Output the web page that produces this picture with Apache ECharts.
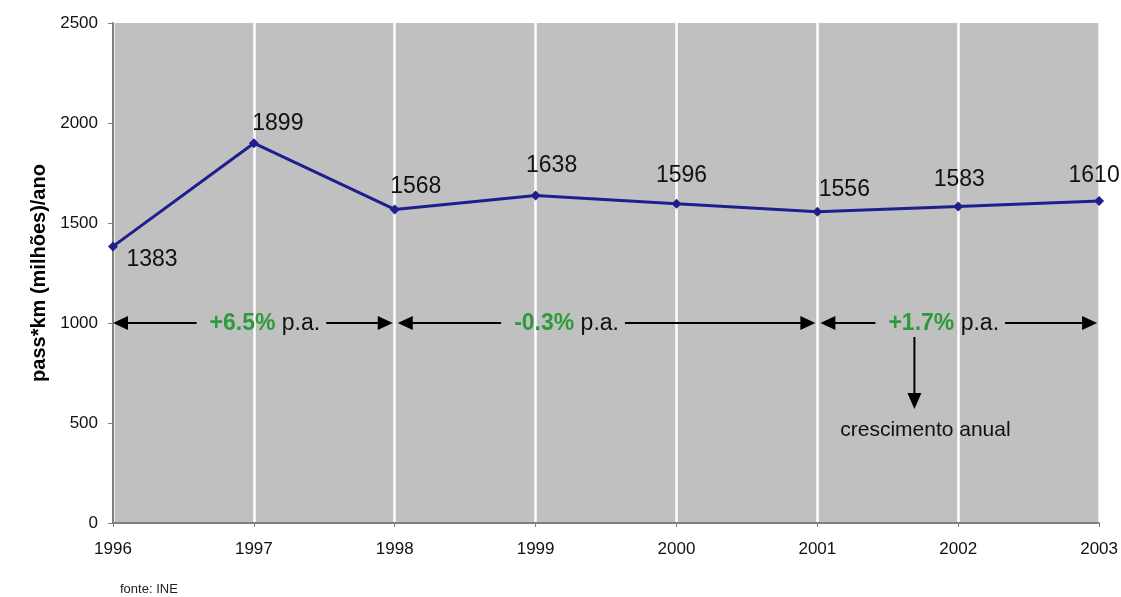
<!DOCTYPE html>
<html>
<head>
<meta charset="utf-8">
<script src="https://cdn.jsdelivr.net/npm/echarts@6/dist/echarts.min.js"></script>
<style>
  html, body { margin: 0; padding: 0; background: #ffffff; }
  #chart { width: 1121px; height: 597px; }
</style>
</head>
<body>
<div id="chart"></div>
<script>
// Passenger-km per year (millions)
const years = [1996, 1997, 1998, 1999, 2000, 2001, 2002, 2003];
const passKm = [1383, 1899, 1568, 1638, 1596, 1556, 1583, 1610];
const yTicks = [0, 500, 1000, 1500, 2000, 2500];

// Annual growth periods drawn as double arrows at the 1000 level
const growthFrom = [1996, 1998, 2001];
const growthTo = [1998, 2001, 2003];
const growthRate = ['+6.5%', '-0.3%', '+1.7%'];
const growthLevel = 1000;

// label placement for each point (pixel offsets from the marker)
const labelOffsets = [[39, 13], [24, -20], [21, -23], [16, -30], [5, -28], [27, -22], [1, -27], [-5, -25]];
// rate text placement along each arrow (pixel shift from the arrow middle)
const rateShift = [12, -40, -15];

const chart = echarts.init(document.getElementById('chart'), null, { renderer: 'canvas' });

const FONT = 'Liberation Sans, Arial, sans-serif';

const option = {
  backgroundColor: '#ffffff',
  animation: false,
  grid: {
    left: 113, right: 21, top: 23, bottom: 74,
    show: true, backgroundColor: '#c0c0c0', borderWidth: 0
  },
  xAxis: {
    type: 'value',
    min: years[0], max: years[years.length - 1], interval: 1,
    axisLine: { show: true, lineStyle: { color: '#808080', width: 2 } },
    axisTick: { show: true, length: 4, lineStyle: { color: '#808080' } },
    axisLabel: { color: '#111', fontFamily: FONT, fontSize: 17, margin: 18, formatter: v => String(v) },
    splitLine: { show: true, lineStyle: { color: '#ffffff', width: 2.5 } }
  },
  yAxis: {
    type: 'value',
    min: yTicks[0], max: yTicks[yTicks.length - 1], interval: 500,
    name: 'pass*km (milhões)/ano',
    nameLocation: 'middle',
    nameGap: 55,
    nameTextStyle: { color: '#000', fontFamily: FONT, fontSize: 20, fontWeight: 'bold' },
    axisLine: { show: true, lineStyle: { color: '#808080', width: 2 } },
    axisTick: { show: true, length: 5, lineStyle: { color: '#808080' } },
    axisLabel: { color: '#111', fontFamily: FONT, fontSize: 17, margin: 15, formatter: v => String(v) },
    splitLine: { show: false }
  },
  series: [{
    type: 'line',
    data: years.map((y, i) => ({
      value: [y, passKm[i]],
      label: { offset: labelOffsets[i] }
    })),
    symbol: 'diamond',
    symbolSize: 10,
    lineStyle: { color: '#1e1e8f', width: 3 },
    itemStyle: { color: '#1e1e8f' },
    label: {
      show: true,
      position: 'inside',
      color: '#111',
      fontFamily: FONT,
      fontSize: 23,
      formatter: p => String(p.value[1])
    },
    z: 5
  }]
};

chart.setOption(option);

// Growth-rate arrows, text and the explanatory note, placed from data coordinates
function buildAnnotations() {
  const els = [];
  const HEAD_L = 15, HEAD_W = 7;
  const FS = 23;
  const ctx = document.createElement('canvas').getContext('2d');
  for (let i = 0; i < growthFrom.length; i++) {
    const a = chart.convertToPixel({ gridIndex: 0 }, [growthFrom[i], growthLevel]);
    const b = chart.convertToPixel({ gridIndex: 0 }, [growthTo[i], growthLevel]);
    const y = a[1];
    const x1 = a[0] + (i === 0 ? 0 : 3);
    const x2 = b[0] - 2;
    const cx = (x1 + x2) / 2 + rateShift[i];
    // measure the rate text so the arrow shaft can stop short of it
    ctx.font = 'bold ' + FS + 'px ' + FONT;
    const wG = ctx.measureText(growthRate[i]).width;
    ctx.font = FS + 'px ' + FONT;
    const wB = ctx.measureText(' p.a.').width;
    const tL = cx - (wG + wB) / 2;
    const tR = cx + (wG + wB) / 2;
    const stroke = { stroke: '#000', lineWidth: 2 };
    els.push({ type: 'line', shape: { x1: x1 + HEAD_L - 1, y1: y, x2: tL - 13, y2: y }, style: stroke, z: 10 });
    els.push({ type: 'polygon', shape: { points: [[x1, y], [x1 + HEAD_L, y - HEAD_W], [x1 + HEAD_L, y + HEAD_W]] }, style: { fill: '#000' }, z: 10 });
    els.push({ type: 'line', shape: { x1: tR + 6, y1: y, x2: x2 - HEAD_L + 1, y2: y }, style: stroke, z: 10 });
    els.push({ type: 'polygon', shape: { points: [[x2, y], [x2 - HEAD_L, y - HEAD_W], [x2 - HEAD_L, y + HEAD_W]] }, style: { fill: '#000' }, z: 10 });
    els.push({
      type: 'text', x: tL, y: y + 1, z: 11,
      style: {
        text: '{g|' + growthRate[i] + '}{b| p.a.}',
        align: 'left', verticalAlign: 'middle',
        rich: {
          g: { fill: '#2e9a3c', fontWeight: 'bold', fontFamily: FONT, fontSize: FS },
          b: { fill: '#111', fontFamily: FONT, fontSize: FS }
        }
      }
    });
    if (i === growthFrom.length - 1) {
      // pointer from the last rate down to its caption
      const px = tL + 26;
      els.push({ type: 'line', shape: { x1: px, y1: y + 14, x2: px, y2: y + 72 }, style: stroke, z: 10 });
      els.push({ type: 'polygon', shape: { points: [[px, y + 86], [px - HEAD_W, y + 70], [px + HEAD_W, y + 70]] }, style: { fill: '#000' }, z: 10 });
      els.push({
        type: 'text', x: px + 11, y: y + 107, z: 11,
        style: { text: 'crescimento anual', align: 'center', verticalAlign: 'middle', fill: '#111', fontFamily: FONT, fontSize: 21 }
      });
    }
  }
  els.push({
    type: 'text', left: 120, top: 583,
    style: { text: 'fonte: INE', fill: '#222', fontFamily: FONT, fontSize: 13 }
  });
  chart.setOption({ graphic: els });
}
buildAnnotations();
</script>
</body>
</html>
